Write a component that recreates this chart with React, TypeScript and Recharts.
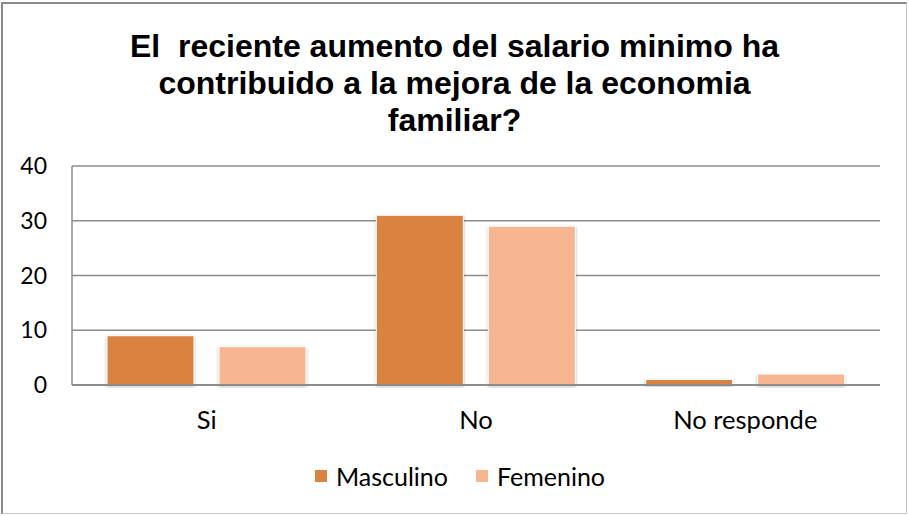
import React from "react";
import { BarChart, Bar, XAxis, YAxis, CartesianGrid, Legend } from "recharts";

const categories = ["Si", "No", "No responde"];
const masculino = [9, 31, 1];
const femenino = [7, 29, 2];
const yTicks = [0, 10, 20, 30, 40];
const titleLines = [
  "El  reciente aumento del salario minimo ha",
  "contribuido a la mejora de la economia",
  "familiar?",
];
const seriesNames = ["Masculino", "Femenino"];
const seriesColors = ["#DA8340", "#F8B591"];

const data = categories.map((c, i) => ({
  name: c,
  Masculino: masculino[i],
  Femenino: femenino[i],
}));

const FONT = "Lato, 'Open Sans', sans-serif";

const LegendContent = () => (
  <div
    style={{
      height: 30,
      display: "flex",
      justifyContent: "center",
      alignItems: "center",
      fontFamily: FONT,
      fontSize: 25,
      color: "#000",
      paddingLeft: 40,
    }}
  >
    {seriesNames.map((n, i) => (
      <div key={n} style={{ display: "flex", alignItems: "center", marginLeft: i ? 28 : 0 }}>
        <div style={{ width: 12, height: 12, background: seriesColors[i], marginRight: 9 }} />
        <span>{n}</span>
      </div>
    ))}
  </div>
);

export default function App() {
  return (
    <div
      style={{
        position: "absolute",
        left: 0,
        top: 0,
        width: 909,
        height: 516,
        background: "#fff",
      }}
    >
      <div
        style={{
          position: "absolute",
          left: 1,
          top: 2,
          width: 906,
          height: 512,
          borderLeft: "2px solid #8a8a8a",
          borderTop: "2px solid #8a8a8a",
          borderRight: "1px solid #c8c8c8",
          borderBottom: "1px solid #c8c8c8",
          boxSizing: "border-box",
        }}
      />
      <div
        style={{
          position: "absolute",
          left: 0,
          top: 28,
          width: 909,
          textAlign: "center",
          fontFamily: "'Liberation Sans', Arial, sans-serif",
          fontWeight: "bold",
          fontSize: 32,
          lineHeight: "37px",
          color: "#000",
          whiteSpace: "pre",
        }}
      >
        {titleLines.map((l, i) => (
          <div key={i}>{l}</div>
        ))}
      </div>
      <div style={{ position: "absolute", left: 0, top: 0 }}>
        <BarChart
          width={909}
          height={516}
          data={data}
          margin={{ top: 166, right: 29, left: 0, bottom: 25 }}
          barGap={25}
          barSize={87}
        >
          <defs>
            <filter id="sh" x="-20%" y="-20%" width="140%" height="140%">
              <feDropShadow dx="0" dy="1" stdDeviation="1.5" floodColor="#000" floodOpacity="0.3" />
            </filter>
          </defs>
          <CartesianGrid vertical={false} stroke="#8c8c8c" strokeWidth={1.5} />
          <XAxis
            dataKey="name"
            height={76}
            axisLine={{ stroke: "#8c8c8c", strokeWidth: 2 }}
            tickLine={false}
            tickMargin={20}
            tick={{ fill: "#000", fontSize: 25.5, fontFamily: FONT }}
          />
          <YAxis
            width={72}
            domain={[0, 40]}
            ticks={yTicks}
            axisLine={{ stroke: "#8c8c8c", strokeWidth: 1.5 }}
            tickLine={false}
            tickMargin={19}
            tick={{ fill: "#000", fontSize: 23, fontFamily: FONT }}
          />
          <Legend verticalAlign="bottom" content={<LegendContent />} />
          <Bar
            dataKey="Masculino"
            fill={seriesColors[0]}
            stroke="#fff"
            strokeWidth={1}
            filter="url(#sh)"
            isAnimationActive={false}
          />
          <Bar
            dataKey="Femenino"
            fill={seriesColors[1]}
            stroke="#fff"
            strokeWidth={1}
            filter="url(#sh)"
            isAnimationActive={false}
          />
        </BarChart>
      </div>
    </div>
  );
}
